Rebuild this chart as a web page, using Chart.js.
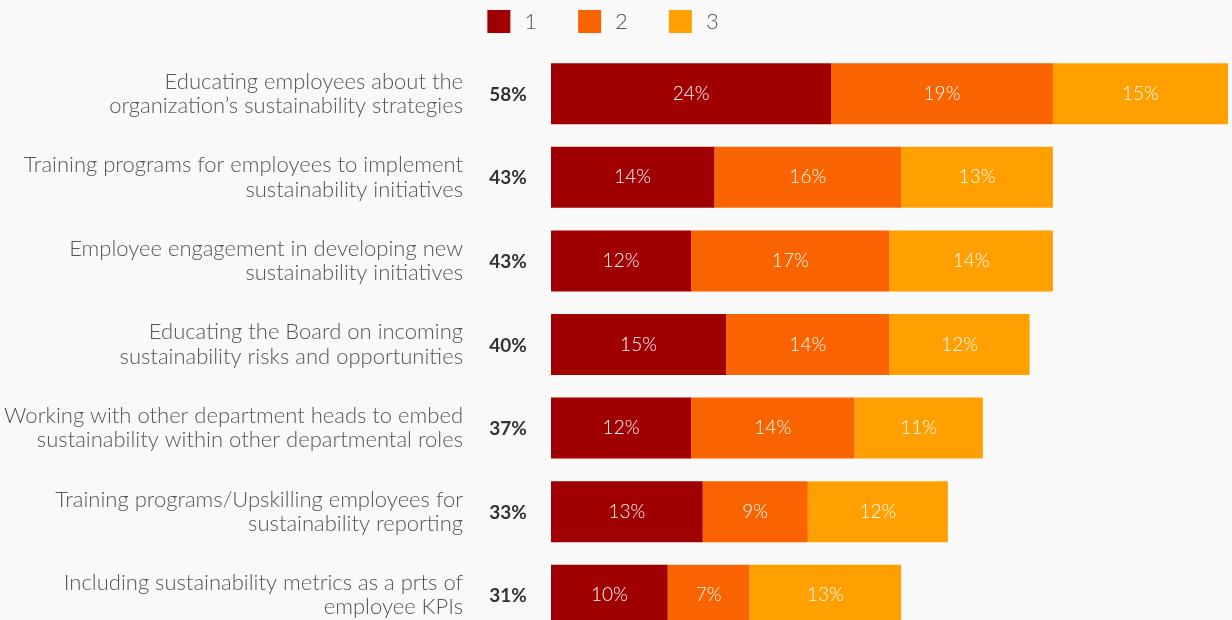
<!DOCTYPE html>
<html>
<head>
<meta charset="utf-8">
<script src="https://cdn.jsdelivr.net/npm/chart.js@4.4.1/dist/chart.umd.min.js"></script>
<style>
  html, body { margin: 0; padding: 0; background: #f9f9f9; overflow: hidden; }
  #wrap { width: 1232px; height: 640px; position: relative; }
</style>
</head>
<body>
<div id="wrap"><canvas id="barChart"></canvas></div>
<script>
const categories = [
    ['Educating employees about the', 'organization\u2019s sustainability strategies'],
    ['Training programs for employees to implement', 'sustainability initiatives'],
    ['Employee engagement in developing new', 'sustainability initiatives'],
    ['Educating the Board on incoming', 'sustainability risks and opportunities'],
    ['Working with other department heads to embed', 'sustainability within other departmental roles'],
    ['Training programs/Upskilling employees for', 'sustainability reporting'],
    ['Including sustainability metrics as a prts of', 'employee KPIs']
];
const totals = [58, 43, 43, 40, 37, 33, 31];
const rank1 = [24, 14, 12, 15, 12, 13, 10];
const rank2 = [19, 16, 17, 14, 14, 9, 7];
const rank3 = [15, 13, 14, 12, 11, 12, 13];
const seriesNames = ['1', '2', '3'];
const colors = ['#a00000', '#fa6400', '#ffa000'];

const FONT = 'Lato, "Open Sans", sans-serif';

// segment values inside the bars + bold totals to the left of each bar
const labelPlugin = {
    id: 'barLabels',
    afterDatasetsDraw(chart) {
        const ctx = chart.ctx;
        ctx.save();
        ctx.textBaseline = 'middle';
        ctx.textAlign = 'center';
        ctx.font = '300 19px ' + FONT;
        ctx.fillStyle = '#ffffff';
        chart.data.datasets.forEach((ds, i) => {
            chart.getDatasetMeta(i).data.forEach((bar, j) => {
                const x = (bar.x + bar.base) / 2;
                ctx.fillText(ds.data[j] + '%', x, bar.y);
            });
        });
        ctx.font = 'bold 19px ' + FONT;
        ctx.fillStyle = '#333333';
        const left = chart.chartArea.left;
        chart.getDatasetMeta(0).data.forEach((bar, j) => {
            ctx.fillText(totals[j] + '%', left - 43, bar.y + 1);
        });
        ctx.restore();
    }
};

// legend row at the top
const legendPlugin = {
    id: 'topLegend',
    afterDraw(chart) {
        const ctx = chart.ctx;
        ctx.save();
        ctx.font = '300 22px ' + FONT;
        ctx.textBaseline = 'middle';
        ctx.textAlign = 'left';
        const box = 23, gap = 14, spacing = 41;
        const widths = chart.data.datasets.map(ds => box + gap + ctx.measureText(ds.label).width);
        const total = widths.reduce((a, b) => a + b, 0) + spacing * (widths.length - 1);
        let x = 603 - total / 2;
        chart.data.datasets.forEach((ds, i) => {
            ctx.fillStyle = ds.backgroundColor;
            ctx.fillRect(x, 10, box, box);
            ctx.fillStyle = '#555555';
            ctx.fillText(ds.label, x + box + gap, 22);
            x += widths[i] + spacing;
        });
        ctx.restore();
    }
};

const barCtx = document.getElementById('barChart').getContext('2d');
new Chart(barCtx, {
    type: 'bar',
    data: {
        labels: categories,
        datasets: [rank1, rank2, rank3].map((d, i) => ({
            label: seriesNames[i],
            data: d,
            backgroundColor: colors[i],
            borderWidth: 0,
            barPercentage: 0.73,
            categoryPercentage: 1
        }))
    },
    options: {
        indexAxis: 'y',
        responsive: true,
        maintainAspectRatio: false,
        animation: false,
        layout: { padding: { top: 52, right: 4, bottom: 3, left: 0 } },
        plugins: {
            legend: { display: false },
            tooltip: { enabled: false }
        },
        scales: {
            x: {
                stacked: true,
                display: false,
                min: 0,
                max: 58
            },
            y: {
                stacked: true,
                grid: { display: false, drawTicks: false },
                border: { display: false },
                afterFit(scale) {
                    scale.width = 551;
                    scale.paddingTop = 0;
                    scale.paddingBottom = 0;
                },
                ticks: {
                    padding: 88,
                    color: '#555555',
                    font: { family: FONT, size: 22, weight: 300, lineHeight: 1.1 }
                }
            }
        }
    },
    plugins: [labelPlugin, legendPlugin]
});
</script>
</body>
</html>
